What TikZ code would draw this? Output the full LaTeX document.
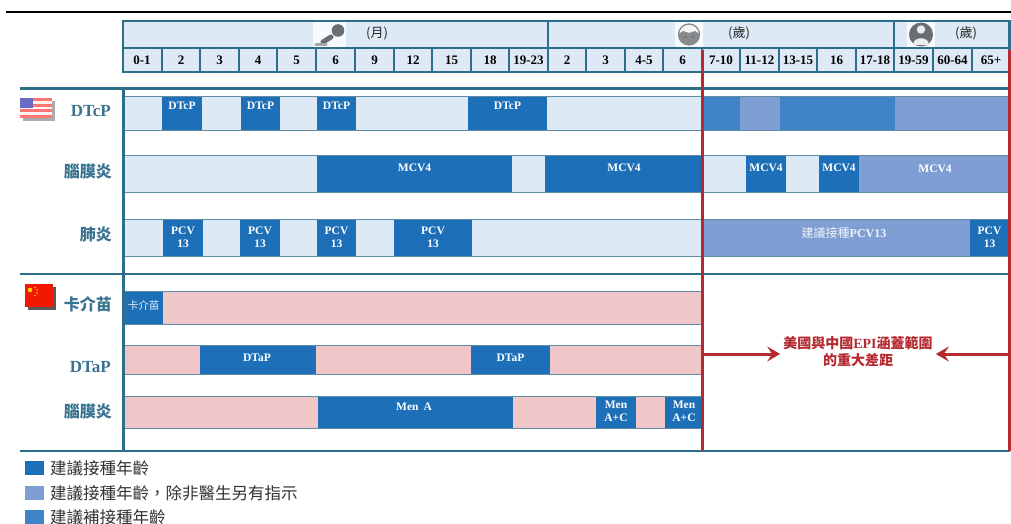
\documentclass[tikz,border=0pt]{standalone}
\usepackage{fontspec}
\setmainfont{Liberation Serif}
\newfontfamily\cjk{Noto Sans CJK TC}
\usetikzlibrary{arrows.meta}
\definecolor{frameC}{HTML}{2D6E8A}
\definecolor{lightC}{HTML}{DDEAF6}
\definecolor{darkC}{HTML}{1D6FB8}
\definecolor{medC}{HTML}{3F84C6}
\definecolor{lmC}{HTML}{7F9ED3}
\definecolor{pinkC}{HTML}{F0C7C9}
\definecolor{redC}{HTML}{B52A30}
\definecolor{barlineC}{HTML}{5F8DA6}
\definecolor{labelC}{HTML}{3A7390}
\definecolor{iconC}{HTML}{6A6E72}
\definecolor{txtC}{HTML}{333333}
\tikzset{
  hdr/.style={font=\bfseries\fontsize{13}{13}\selectfont, text=black, inner sep=0pt},
  unit/.style={font=\cjk\fontsize{13}{13}\selectfont, text=black!85, inner sep=0pt},
  bartxt/.style={font=\bfseries\fontsize{11.5}{13}\selectfont, text=white, align=center, inner sep=0pt},
  lab/.style={anchor=east, text=labelC, inner sep=0pt},
  framel/.style={draw=frameC, line width=2.5pt},
  divl/.style={draw=frameC, line width=2pt},
  barb/.style={draw=barlineC, line width=1pt},
  redl/.style={draw=redC, line width=2.8pt},
  gaparrow/.style={draw=redC, line width=3pt, -{Stealth[length=13pt,width=15pt,inset=5pt]}},
  legtxt/.style={anchor=west, font=\cjk\fontsize{16.5}{16.5}\selectfont, text=txtC, inner sep=0pt},
}
\begin{document}
\begin{tikzpicture}[x=1pt,y=-1pt]
\useasboundingbox (0,0) rectangle (1011,524);
\fill[white] (0,0) rectangle (1011,524);

% top rule
\draw[black, line width=2.2pt] (6,12) -- (1011,12);

% ---------- header ----------
\fill[lightC] (123,21) rectangle (1009,72);
% icon backgrounds
\fill[white!80!lightC] (313,21) rectangle (346,47);
\fill[white!80!lightC] (675,22) rectangle (703,47);
\fill[white!80!lightC] (907,22) rectangle (935,47);
\draw[framel] (123,21) rectangle (1009.5,72);
\draw[divl] (123,48) -- (1009.5,48);
\draw[divl] (548,21) -- (548,48);
\draw[divl] (894,21) -- (894,48);
\foreach \x in {162,200,239,277,316,355,394,432,471,509,548,586,625,663,702,740,779,817,856,894,933,972}
  \draw[divl] (\x,48) -- (\x,72);
\foreach \a/\b/\t [count=\i] in {122/162/0-1,162/200/2,200/239/3,239/277/4,277/316/5,316/355/6,355/394/9,394/432/12,432/471/15,471/509/18,509/548/19-23,548/586/2,586/625/3,625/663/4-5,663/702/6,702/740/7-10,740/779/11-12,779/817/13-15,817/856/16,856/894/17-18,894/933/19-59,933/972/60-64,972/1010/65+}
  \node[hdr] (col\i) at ({(\a+\b)/2},60.5) {\t};
\node[unit] (umonth) at (377,33) {(月)};
\node[unit] (uyear1) at (739,33) {(歲)};
\node[unit] (uyear2) at (966,33) {(歲)};

% baby icon
\fill[iconC] (338,30.5) circle (6.3);
\draw[iconC, line width=5pt, line cap=round] (331,37) -- (323,42);
\draw[iconC!60, line width=3.5pt, line cap=round] (316,44.5) -- (326,44.5);
% child icon
\fill[white!92!gray] (689,34.5) circle (10.5);
\fill[iconC!80] (678.5,34) arc (180:0:10.5) -- (699.5,34) -- (695,31) -- (689,33) -- (683,31) -- cycle;
\draw[iconC!80, line width=1.3pt] (689,34.5) circle (10.5);
\fill[iconC] (685,37) circle (1.2) (693,37) circle (1.2);
% adult icon
\fill[iconC] (921,34.5) circle (12);
\fill[white!85!gray] (921,29.5) circle (4.2);
\fill[white!85!gray] (913,45) .. controls (913,36) and (929,36) .. (929,45) -- cycle;

% ---------- section frame ----------
\draw[framel] (20,88.5) -- (1010,88.5);
\draw[framel] (20,274) -- (1010,274);
\draw[framel] (20,451) -- (1010,451);
\draw[framel] (123.5,88.5) -- (123.5,451);

% ---------- US row 1: DTcP ----------
\fill[lightC] (125,97) rectangle (703,130);
\foreach \a/\b in {162/202,241/280,317/356,468/547}
  \fill[darkC] (\a,97) rectangle (\b,130);
\fill[medC] (703,97) rectangle (740,130);
\fill[lmC] (740,97) rectangle (780,130);
\fill[medC] (780,97) rectangle (895,130);
\fill[lmC] (895,97) rectangle (1009,130);
\draw[barb] (125,96.5) -- (1009,96.5) (125,130.5) -- (1009,130.5);
\node[bartxt] (us1a) at (182,106) {DTcP};
\node[bartxt] (us1b) at (260.5,106) {DTcP};
\node[bartxt] (us1c) at (336.5,106) {DTcP};
\node[bartxt] (us1d) at (507.5,106) {DTcP};

% ---------- US row 2: MCV4 ----------
\fill[lightC] (125,156) rectangle (1009,192);
\fill[darkC] (317,156) rectangle (512,192);
\fill[darkC] (545,156) rectangle (703,192);
\fill[darkC] (746,156) rectangle (786,192);
\fill[darkC] (819,156) rectangle (859,192);
\fill[lmC] (859,156) rectangle (1009,192);
\draw[barb] (125,155.5) -- (1009,155.5) (125,192.5) -- (1009,192.5);
\node[bartxt] (us2a) at (414.5,168) {MCV4};
\node[bartxt] (us2b) at (624,168) {MCV4};
\node[bartxt] (us2c) at (766,168) {MCV4};
\node[bartxt] (us2d) at (839,168) {MCV4};
\node[bartxt] (us2e) at (935,169) {MCV4};

% ---------- US row 3: PCV13 ----------
\fill[lightC] (125,220) rectangle (703,256);
\foreach \a/\b in {163/203,240/280,317/356,394/472}
  \fill[darkC] (\a,220) rectangle (\b,256);
\fill[lmC] (703,220) rectangle (970,256);
\fill[darkC] (970,220) rectangle (1009,256);
\draw[barb] (125,219.5) -- (1009,219.5) (125,256.5) -- (1009,256.5);
\node[bartxt] (us3a) at (183,237.5) {PCV\\13};
\node[bartxt] (us3b) at (260,237.5) {PCV\\13};
\node[bartxt] (us3c) at (336.5,237.5) {PCV\\13};
\node[bartxt] (us3d) at (433,237.5) {PCV\\13};
\node[bartxt] (us3e) at (989.5,237.5) {PCV\\13};
\node[inner sep=0pt, text=white!88!lmC, font=\cjk\fontsize{12}{12}\selectfont] (us3f) at (844,233) {建議接種{\rmfamily\bfseries PCV13}};

% ---------- China row 1: BCG ----------
\fill[pinkC] (125,292) rectangle (703,324);
\fill[darkC] (125,292) rectangle (163,324);
\draw[barb] (125,291.5) -- (703,291.5) (125,324.5) -- (703,324.5);
\node[inner sep=0pt, text=white!90!darkC, font=\cjk\fontsize{10.5}{10.5}\selectfont] (cn1a) at (143.5,305) {卡介苗};

% ---------- China row 2: DTaP ----------
\fill[pinkC] (125,346) rectangle (703,374);
\fill[darkC] (200,346) rectangle (316,374);
\fill[darkC] (471,346) rectangle (550,374);
\draw[barb] (125,345.5) -- (703,345.5) (125,374.5) -- (703,374.5) (702.5,345.5) -- (702.5,374.5);
\node[bartxt] (cn2a) at (257,358) {DTaP};
\node[bartxt] (cn2b) at (510.5,358) {DTaP};

% ---------- China row 3: Men ----------
\fill[pinkC] (125,397) rectangle (703,428);
\fill[darkC] (318,397) rectangle (513,428);
\fill[darkC] (596,397) rectangle (636,428);
\fill[darkC] (665,397) rectangle (703,428);
\draw[barb] (125,396.5) -- (703,396.5) (125,428.5) -- (703,428.5);
\node[bartxt] (cn3a) at (414,407) {Men\hspace{5pt}A};
\node[bartxt] (cn3b) at (616,411) {Men\\A+C};
\node[bartxt] (cn3c) at (684,411) {Men\\A+C};

% ---------- flags ----------
\fill[gray!65] (23,101) rectangle (55,121);
\fill[white!95!red] (20,98) rectangle (52,118);
\foreach \k in {0,2,4,6}
  \fill[red!55!white] (20,{98+\k*20/7}) rectangle (52,{98+(\k+1)*20/7});
\fill[blue!45!gray!80] (20,98) rectangle (33,108.5);
\fill[gray!70!black] (28,287) rectangle (56,310);
\fill[red!80!orange!95!black] (25,284) rectangle (53,307);
\fill[yellow!70!orange] (30,290) circle (2.3);
\fill[yellow!70!orange] (35,287.5) circle (0.8) (37,290) circle (0.8) (37,293) circle (0.8) (35,295.5) circle (0.8);

% ---------- row labels ----------
\node[lab, font=\bfseries\fontsize{17}{17}\selectfont] (lDTcP) at (111,111) {DTcP};
\node[lab, font=\cjk\bfseries\fontsize{16}{16}\selectfont] (lMen1) at (112,171) {腦膜炎};
\node[lab, font=\cjk\bfseries\fontsize{16}{16}\selectfont] (lPneu) at (112,234) {肺炎};
\node[lab, font=\cjk\bfseries\fontsize{16}{16}\selectfont] (lBCG) at (112,304) {卡介苗};
\node[lab, font=\bfseries\fontsize{17}{17}\selectfont] (lDTaP) at (111,367) {DTaP};
\node[lab, font=\cjk\bfseries\fontsize{16}{16}\selectfont] (lMen2) at (112,411) {腦膜炎};

% ---------- red gap lines and arrows ----------
\draw[redl] (702.5,50) -- (702.5,451);
\draw[redl] (1009.5,50) -- (1009.5,451);
\node[inner sep=2pt, text=redC, align=center, font=\cjk\bfseries\fontsize{14}{17}\selectfont] (gap) at (858,351.5) {美國與中國{\rmfamily EPI}涵蓋範圍\\的重大差距};
\coordinate (aL) at (704,354);
\coordinate (aR) at (1008,354);
\draw[gaparrow, shorten >=1pt] (aL) -- (gap.west |- aL);
\draw[gaparrow, shorten >=1pt] (aR) -- (gap.east |- aR);

% ---------- legend ----------
\fill[darkC] (25,461) rectangle (44,475);
\fill[lmC] (25,486) rectangle (44,500);
\fill[medC] (25,510) rectangle (44,524);
\node[legtxt] (leg1) at (50,468) {建議接種年齡};
\node[legtxt] (leg2) at (50,493) {建議接種年齡，除非醫生另有指示};
\node[legtxt] (leg3) at (50,517) {建議補接種年齡};
\end{tikzpicture}
\end{document}
